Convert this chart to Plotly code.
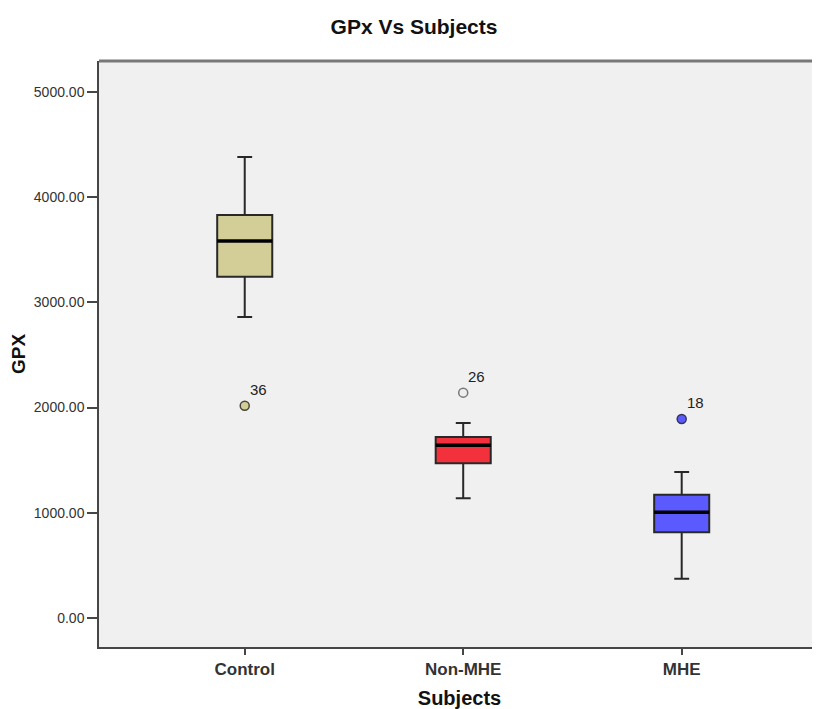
import plotly.graph_objects as go

categories = ["Control", "Non-MHE", "MHE"]
q1 = [3245, 1470, 815]
median = [3584, 1641, 1005]
q3 = [3830, 1721, 1172]
lower_whisker = [2861, 1137, 374]
upper_whisker = [4382, 1854, 1388]
outlier_values = [2018, 2142, 1892]
outlier_labels = ["36", "26", "18"]

fill_colors = ["rgb(211,206,152)", "rgb(242,49,60)", "rgb(90,90,255)"]
outlier_fills = ["rgb(211,206,152)", "rgb(238,238,238)", "rgb(90,90,255)"]
outlier_lines = ["rgb(70,70,60)", "rgb(120,120,120)", "rgb(50,50,90)"]

FONT = "Liberation Sans, Arial"
BOX_W = 0.252
fig = go.Figure()
for i, c in enumerate(categories):
    fig.add_trace(go.Box(
        x=[c], q1=[q1[i]], median=[median[i]], q3=[q3[i]],
        lowerfence=[lower_whisker[i]], upperfence=[upper_whisker[i]],
        fillcolor=fill_colors[i], line=dict(color="rgb(40,40,40)", width=2),
        width=BOX_W, whiskerwidth=0.27, boxpoints=False, showlegend=False,
        hoverinfo="skip",
    ))
    fig.add_shape(type="line", xref="x", yref="y",
                  x0=i - BOX_W / 2, x1=i + BOX_W / 2, y0=median[i], y1=median[i],
                  line=dict(color="black", width=3.5))
    fig.add_trace(go.Scatter(
        x=[c], y=[outlier_values[i]], mode="markers",
        marker=dict(size=9, color=outlier_fills[i],
                    line=dict(color=outlier_lines[i], width=1.5)),
        showlegend=False, hoverinfo="skip",
    ))
    fig.add_annotation(x=c, y=outlier_values[i], text=outlier_labels[i],
                       showarrow=False, xanchor="left", yanchor="middle",
                       xshift=3, yshift=16,
                       font=dict(family=FONT, size=15, color="#222"))

# top border
fig.add_shape(type="line", xref="paper", yref="paper", x0=0, x1=1, y0=1, y1=1,
              line=dict(color="rgb(120,120,120)", width=3))

fig.update_layout(
    width=812, height=701,
    margin=dict(l=91, r=0, t=53, b=62),
    paper_bgcolor="white", plot_bgcolor="rgb(240,240,240)",
    boxmode="overlay",
    title=dict(text="<b>GPx Vs Subjects</b>", x=0.5, xanchor="center",
               y=0.9729, yanchor="middle",
               font=dict(family=FONT, size=21, color="#111")),
    font=dict(family=FONT, color="#222"),
)
fig.update_xaxes(
    type="category", categoryorder="array", categoryarray=categories,
    range=[-0.667, 2.633], showgrid=False, zeroline=False, automargin=False,
    showline=True, linecolor="rgb(70,70,70)", linewidth=1.5,
    ticks="outside", ticklen=6, tickcolor="rgb(70,70,70)", tickwidth=1.5,
    tickfont=dict(family=FONT, size=17, color="#333"),
    tickprefix="<b>", ticksuffix="</b>",
    title=dict(text="<b>Subjects</b>", standoff=17,
               font=dict(family=FONT, size=20, color="#111")),
)
fig.update_yaxes(
    range=[-276, 5295], tickvals=[0, 1000, 2000, 3000, 4000, 5000],
    tickformat=".2f", showgrid=False, zeroline=False, automargin=False,
    showline=True, linecolor="rgb(70,70,70)", linewidth=1.5,
    ticks="outside", ticklen=10, tickcolor="rgb(70,70,70)", tickwidth=1.5,
    tickfont=dict(family=FONT, size=14, color="#333"),
    title=dict(text="<b>GPX</b>", standoff=8,
               font=dict(family=FONT, size=19, color="#111")),
)

fig.write_html("out.html")
